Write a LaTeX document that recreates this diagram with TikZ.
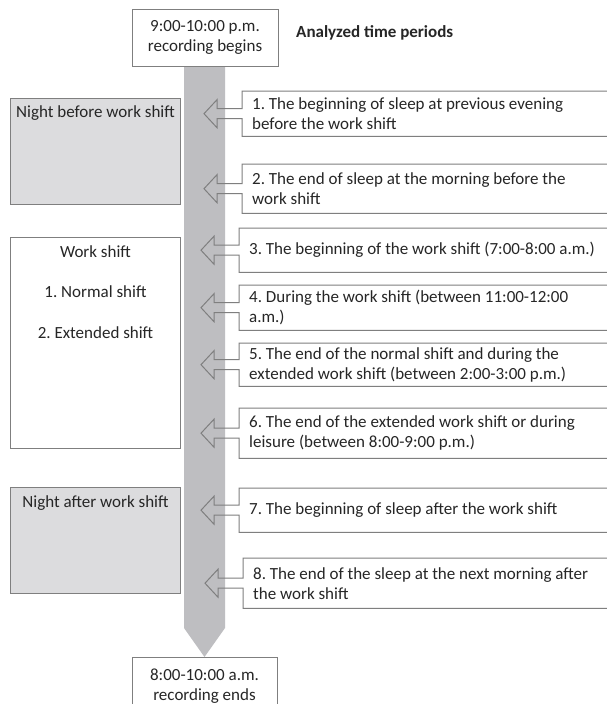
\documentclass[tikz,border=0pt]{standalone}
\usepackage{fontspec}
\setmainfont{Carlito}
\usetikzlibrary{calc}
\definecolor{linegray}{HTML}{7F7F7F}
\definecolor{bargray}{HTML}{BEBEC1}
\definecolor{boxgray}{HTML}{DCDCDE}
\definecolor{txt}{HTML}{262626}
\newcommand\mainfnt{\frenchspacing\fontsize{17}{20}\selectfont}
\newcommand\mkcallout[1]{%
  \draw[cline] ([yshift=5pt]#1.west) |- (#1.north east) |- (#1.south west)
    -- ([yshift=-5pt]#1.west) -- ++(-25,0) -- ++(0,9) -- ++(-13,-14)
    -- ++(13,-14) -- ++(0,9) -- cycle;}
\begin{document}
\begin{tikzpicture}[x=1pt,y=-1pt,
  cline/.style={draw=linegray, line width=1pt},
  callbox/.style={rectangle, fill=white, draw=none, anchor=north west,
    minimum width=420pt, text width=400pt, inner xsep=10pt, inner ysep=0pt,
    align=flush left, text=txt, font=\mainfnt},
  sidebox/.style={rectangle, draw=linegray, line width=1pt, anchor=north west,
    minimum width=170pt, inner sep=0pt},
  sidetext/.style={text=txt, font=\mainfnt, align=center, inner sep=0pt},
  endbox/.style={rectangle, draw=linegray, line width=1pt, fill=white,
    text=txt, font=\mainfnt, align=center, inner sep=0pt}]
\useasboundingbox (0,0) rectangle (606,704);
\fill[white] (0,0) rectangle (606,704);

% bottom box and time bar
\node[endbox, anchor=north, minimum width=145pt, minimum height=58pt] (bb) at (204.5,657)
  {8:00-10:00 a.m.\\recording ends};
\fill[bargray] (184,67) -- (225,67) -- (225,628) -- (bb.north) -- (184,628) -- cycle;
% top box
\node[endbox, minimum width=146pt, minimum height=57pt] (tb) at (205,37.5)
  {9:00-10:00 p.m.\\recording begins};

\node[anchor=west, text=txt, font=\mainfnt\bfseries, inner sep=0pt] (title) at (296,33)
  {Analyzed time periods};

% side boxes
\node[sidebox, fill=boxgray, minimum height=106pt] (nb) at (10,98) {};
\node[sidetext] (nbt) at ($(nb.north)+(0,15)$) {Night before work shift};
\node[sidebox, fill=white, minimum height=211pt] (ws) at (10,237) {};
\node[sidetext] (wst) at ($(ws.north)+(0,55)$)
  {Work shift\\[20.5pt]1. Normal shift\\[20.5pt]2. Extended shift};
\node[sidebox, fill=boxgray, minimum height=106pt] (na) at (10,487) {};
\node[sidetext] (nat) at ($(na.north)+(0,16)$) {Night after work shift};

% callouts
\node[callbox, minimum height=45pt] (c1) at (242,91)
  {1. The beginning of sleep at previous evening\\before the work shift};
\node[callbox, minimum height=49pt] (c2) at (242,164)
  {2. The end of sleep at the morning before the\\work shift};
\node[callbox, minimum height=44pt] (c3) at (239,228)
  {3. The beginning of the work shift (7:00-8:00 a.m.)};
\node[callbox, minimum height=45pt] (c4) at (239,285)
  {4. During the work shift (between 11:00-12:00\\a.m.)};
\node[callbox, minimum height=43pt] (c5) at (239,343)
  {5. The end of the normal shift and during the\\extended work shift (between 2:00-3:00 p.m.)};
\node[callbox, minimum height=50pt] (c6) at (239,408)
  {6. The end of the extended work shift or during\\leisure (between 8:00-9:00 p.m.)};
\node[callbox, minimum height=44pt] (c7) at (239,488)
  {7. The beginning of sleep after the work shift};
\node[callbox, minimum height=50pt] (c8) at (243,558)
  {8. The end of the sleep at the next morning after\\the work shift};
\mkcallout{c1}
\mkcallout{c2}
\mkcallout{c3}
\mkcallout{c4}
\mkcallout{c5}
\mkcallout{c6}
\mkcallout{c7}
\mkcallout{c8}
\end{tikzpicture}
\end{document}
